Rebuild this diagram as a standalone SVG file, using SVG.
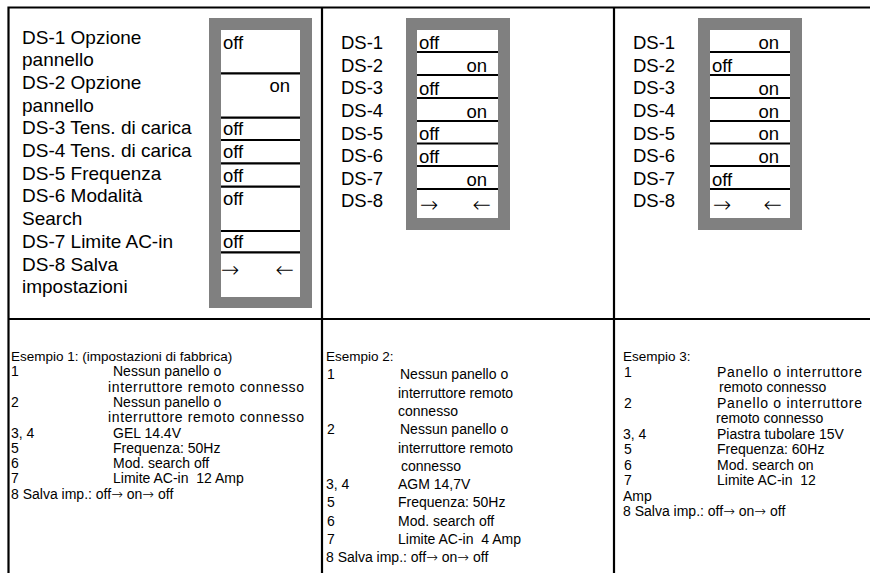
<svg xmlns="http://www.w3.org/2000/svg" width="870" height="573" viewBox="0 0 870 573" xml:space="preserve">
<style>
text{font-family:"Liberation Sans",Arial,sans-serif;fill:#000;white-space:pre}
.t{font-size:18.5px}
.tl{font-size:19px}
.b{font-size:14px}
.h{font-size:13.5px}
.ar{font-family:"DejaVu Sans",sans-serif;font-size:22px;font-weight:200}
.sa{font-family:"DejaVu Sans",sans-serif;font-weight:200}
.grey{fill:#808080}
.white{fill:#fff}
.sep{stroke:#000;stroke-width:2.2}
.grid{stroke:#000;stroke-width:2.2;fill:none}
</style>
<rect width="870" height="573" fill="#fff"/>
<g id="grid">
<path class="grid" d="M8.5,573 V7.5 H870 M322,7.5 V573 M614,7.5 V573 M8.5,319 H870"/>
</g>
<g id="panel1">
<rect class="grey" x="209" y="18" width="103" height="290"/>
<rect class="white" x="221" y="30" width="79" height="267"/>
<path class="sep" d="M221,73.3H300M221,117.7H300M221,140H300M221,163.3H300M221,186.7H300M221,231H300M221,252.3H300"/>
<g class="tl">
<text x="22" y="43.5">DS-1 Opzione</text>
<text x="22" y="66.2">pannello</text>
<text x="22" y="88.9">DS-2 Opzione</text>
<text x="22" y="111.6">pannello</text>
<text x="22" y="134.3">DS-3 Tens. di carica</text>
<text x="22" y="157">DS-4 Tens. di carica</text>
<text x="22" y="179.7">DS-5 Frequenza</text>
<text x="22" y="202.4">DS-6 Modalità</text>
<text x="22" y="225.1">Search</text>
<text x="22" y="247.8">DS-7 Limite AC-in</text>
<text x="22" y="270.5">DS-8 Salva</text>
<text x="22" y="293.2">impostazioni</text>
</g>
<g class="t">
<text x="223" y="49">off</text>
<text x="290" y="92" text-anchor="end">on</text>
<text x="223" y="135">off</text>
<text x="223" y="158">off</text>
<text x="223" y="181.5">off</text>
<text x="223" y="204.5">off</text>
<text x="223" y="248">off</text>
</g>
<text class="ar" x="221" y="277">→</text>
<text class="ar" x="294" y="277" text-anchor="end">←</text>
</g>
<g id="panel2">
<rect class="grey" x="406" y="18" width="104" height="212"/>
<rect class="white" x="417" y="30" width="81" height="188"/>
<path class="sep" d="M417,52H498M417,75H498M417,98H498M417,121H498M417,143.5H498M417,166H498M417,189H498"/>
<g class="t">
<text x="341" y="49.2">DS-1</text>
<text x="341" y="71.8">DS-2</text>
<text x="341" y="94.4">DS-3</text>
<text x="341" y="117">DS-4</text>
<text x="341" y="139.6">DS-5</text>
<text x="341" y="162.2">DS-6</text>
<text x="341" y="184.8">DS-7</text>
<text x="341" y="207.4">DS-8</text>
<text x="419" y="49">off</text>
<text x="487" y="71.5" text-anchor="end">on</text>
<text x="419" y="94.5">off</text>
<text x="487" y="117.5" text-anchor="end">on</text>
<text x="419" y="140">off</text>
<text x="419" y="162.5">off</text>
<text x="487" y="185.5" text-anchor="end">on</text>
</g>
<text class="ar" x="420" y="212">→</text>
<text class="ar" x="491" y="212" text-anchor="end">←</text>
</g>
<g id="panel3">
<rect class="grey" x="698" y="18" width="104" height="212"/>
<rect class="white" x="710" y="30" width="80" height="188"/>
<path class="sep" d="M710,52H790M710,75H790M710,98H790M710,121H790M710,143.5H790M710,166H790M710,189H790"/>
<g class="t">
<text x="633" y="49.2">DS-1</text>
<text x="633" y="71.8">DS-2</text>
<text x="633" y="94.4">DS-3</text>
<text x="633" y="117">DS-4</text>
<text x="633" y="139.6">DS-5</text>
<text x="633" y="162.2">DS-6</text>
<text x="633" y="184.8">DS-7</text>
<text x="633" y="207.4">DS-8</text>
<text x="779" y="48.5" text-anchor="end">on</text>
<text x="712" y="72">off</text>
<text x="779" y="94.5" text-anchor="end">on</text>
<text x="779" y="117.5" text-anchor="end">on</text>
<text x="779" y="140" text-anchor="end">on</text>
<text x="779" y="162.5" text-anchor="end">on</text>
<text x="712" y="186">off</text>
</g>
<text class="ar" x="713" y="212">→</text>
<text class="ar" x="782" y="212" text-anchor="end">←</text>
</g>
<g id="example1" class="b">
<text class="h" x="11" y="361">Esempio 1: (impostazioni di fabbrica)</text>
<text x="11" y="376.3">1</text><text x="113" y="376.3">Nessun panello o</text>
<text x="108" y="391.6" textLength="196" lengthAdjust="spacing">interruttore remoto connesso</text>
<text x="11" y="406.9">2</text><text x="113" y="406.9">Nessun panello o</text>
<text x="108" y="422.2" textLength="196" lengthAdjust="spacing">interruttore remoto connesso</text>
<text x="11" y="437.5">3, 4</text><text x="113" y="437.5">GEL 14.4V</text>
<text x="11" y="452.8">5</text><text x="113" y="452.8">Frequenza: 50Hz</text>
<text x="11" y="468.1">6</text><text x="113" y="468.1">Mod. search off</text>
<text x="11" y="483.4">7</text><text x="113" y="483.4">Limite AC-in  12 Amp</text>
<text x="11" y="498.7">8 Salva imp.: off<tspan class="sa">→</tspan> on<tspan class="sa">→</tspan> off</text>
</g>
<g id="example2" class="b">
<text class="h" x="326" y="361">Esempio 2:</text>
<text x="327" y="379.3">1</text><text x="400" y="379.3">Nessun panello o</text>
<text x="398" y="397.6">interruttore remoto</text>
<text x="398" y="415.9">connesso</text>
<text x="327" y="434.2">2</text><text x="400" y="434.2">Nessun panello o</text>
<text x="398" y="452.5">interruttore remoto</text>
<text x="401" y="470.8">connesso</text>
<text x="326" y="489.1">3, 4</text><text x="398" y="489.1">AGM 14,7V</text>
<text x="327" y="507.4">5</text><text x="398" y="507.4">Frequenza: 50Hz</text>
<text x="327" y="525.7">6</text><text x="398" y="525.7">Mod. search off</text>
<text x="327" y="544">7</text><text x="398" y="544">Limite AC-in  4 Amp</text>
<text x="326" y="562.3">8 Salva imp.: off<tspan class="sa">→</tspan> on<tspan class="sa">→</tspan> off</text>
</g>
<g id="example3" class="b">
<text class="h" x="623" y="361">Esempio 3:</text>
<text x="624" y="376.5">1</text><text x="717" y="376.5" textLength="145" lengthAdjust="spacing">Panello o interruttore</text>
<text x="719" y="392">remoto connesso</text>
<text x="624" y="407.5">2</text><text x="717" y="407.5" textLength="145" lengthAdjust="spacing">Panello o interruttore</text>
<text x="716" y="423">remoto connesso</text>
<text x="623" y="438.5">3, 4</text><text x="717" y="438.5">Piastra tubolare 15V</text>
<text x="624" y="454">5</text><text x="717" y="454">Frequenza: 60Hz</text>
<text x="624" y="469.5">6</text><text x="717" y="469.5">Mod. search on</text>
<text x="624" y="485">7</text><text x="717" y="485">Limite AC-in  12</text>
<text x="623" y="500.5">Amp</text>
<text x="623" y="516">8 Salva imp.: off<tspan class="sa">→</tspan> on<tspan class="sa">→</tspan> off</text>
</g>
</svg>
